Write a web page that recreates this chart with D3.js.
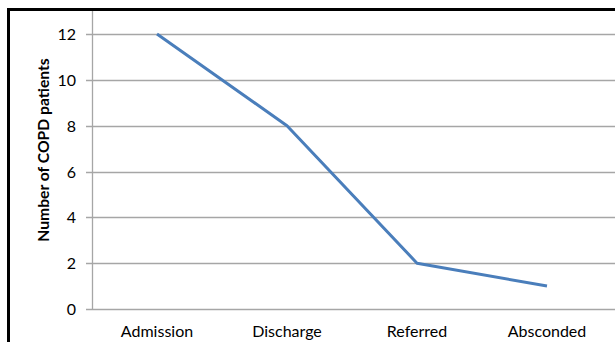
<!DOCTYPE html>
<html><head><meta charset="utf-8">
<script src="https://cdn.jsdelivr.net/npm/d3@7"></script>
<style>
html,body{margin:0;padding:0;background:#fff;}
svg{display:block;}
text{font-family:Lato,"Open Sans",sans-serif;fill:#000;}
</style></head>
<body>
<svg id="c" width="615" height="342"></svg>
<script>
const categories = ["Admission","Discharge","Referred","Absconded"];
const values = [12, 8, 2, 1];
const yTicks = [0,2,4,6,8,10,12];
const yTitle = "Number of COPD patients";

const svg = d3.select("#c");
const W = 615, H = 342;
const m = {left:92, right:3, top:11, bottom:33};

// frame
svg.append("rect").attr("x",0).attr("y",0).attr("width",W).attr("height",H).attr("fill","#fff");
svg.append("line").attr("x1",7).attr("x2",W).attr("y1",9.5).attr("y2",9.5).attr("stroke","#000").attr("stroke-width",3);
svg.append("line").attr("x1",8.5).attr("x2",8.5).attr("y1",8).attr("y2",H).attr("stroke","#000").attr("stroke-width",3);

const x = d3.scaleBand().domain(categories).range([m.left, 612]);
const y = d3.scaleLinear().domain([0,12]).range([309, 34]);

// gridlines
svg.append("g").selectAll("line").data(yTicks).join("line")
  .attr("x1",86).attr("x2",W)
  .attr("y1",d=>Math.round(y(d))+0.5).attr("y2",d=>Math.round(y(d))+0.5)
  .attr("stroke","#a6a6a6").attr("stroke-width",1.3);

// y axis line
svg.append("line").attr("x1",92.5).attr("x2",92.5).attr("y1",11).attr("y2",310)
  .attr("stroke","#a6a6a6").attr("stroke-width",1.3);

// y axis tick labels
const yAxis = d3.axisLeft(y).tickValues(yTicks).tickSize(0).tickPadding(0);
const gy = svg.append("g").attr("transform","translate(76,0)").call(yAxis);
gy.select(".domain").remove();
gy.selectAll("text").attr("font-size",16).attr("font-family","Lato,'Open Sans',sans-serif").attr("fill","#000").attr("dy","0.35em");

// x axis labels
const xAxis = d3.axisBottom(x).tickSize(0).tickPadding(0);
const gx = svg.append("g").attr("transform","translate(0,326)").call(xAxis);
gx.select(".domain").remove();
gx.selectAll("text").attr("font-size",16).attr("font-family","Lato,'Open Sans',sans-serif").attr("fill","#000").attr("dy","0.71em");

// y title
svg.append("text").attr("transform","translate(49,150) rotate(-90)")
  .attr("text-anchor","middle").attr("font-size",15.7).attr("font-weight","bold").text(yTitle);

// line
const line = d3.line().x((d,i)=>x(categories[i])+x.bandwidth()/2).y(d=>y(d));
svg.append("path").datum(values).attr("d",line).attr("fill","none")
  .attr("stroke","#4a7ebb").attr("stroke-width",3).attr("stroke-linejoin","round");
</script>
</body></html>
